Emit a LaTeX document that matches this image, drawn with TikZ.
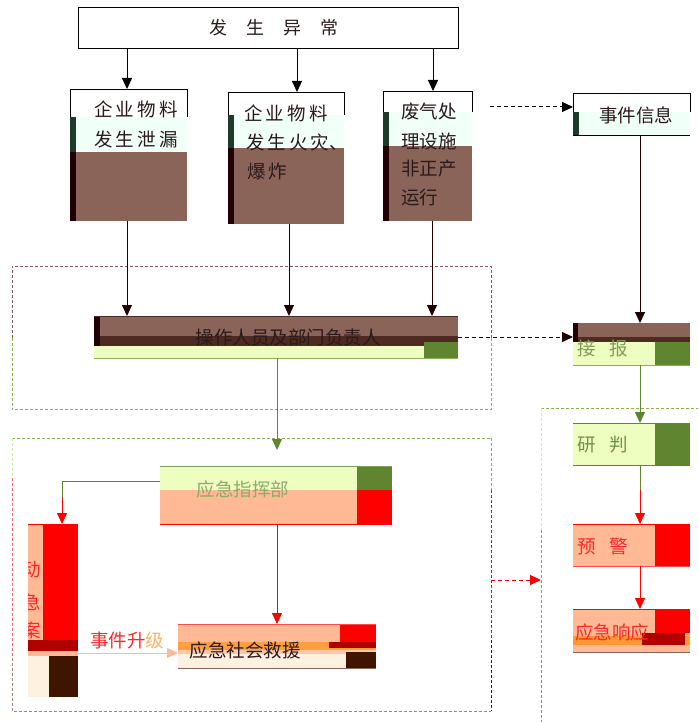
\documentclass[tikz,border=0pt]{standalone}
\usepackage{fontspec}
\newfontfamily\cjk{Noto Sans CJK SC}
\usetikzlibrary{arrows.meta}
\definecolor{brn}{HTML}{8B6459}
\definecolor{dstrip}{HTML}{200000}
\definecolor{mint}{HTML}{F0FFF8}
\definecolor{dgreen}{HTML}{1E3A2A}
\definecolor{lyg}{HTML}{EEFDC0}
\definecolor{olive}{HTML}{5F8530}
\definecolor{salmon}{HTML}{FFB994}
\definecolor{beige}{HTML}{FFF1E0}
\definecolor{dbrown}{HTML}{3F1500}
\definecolor{dred}{HTML}{B00000}
\definecolor{dbr2}{HTML}{4E2A22}
\definecolor{dashbrn}{HTML}{7A5A5A}
\definecolor{dashgrn}{HTML}{8BB050}
\definecolor{lgrn}{HTML}{C8F0A0}
\definecolor{txtdark}{HTML}{2A1A1A}
\tikzset{
  box/.style={draw=none,fill=none,inner sep=0pt,anchor=north west},
  txt/.style={font=\cjk\fontsize{18.5}{20}\selectfont,inner sep=0pt,text=txtdark},
  arr/.style={-{Triangle[length=11pt,width=10pt]},line width=1pt},
  dsh/.style={dashed,dash pattern=on 3pt off 2pt,line width=0.8pt},
}
\begin{document}
\begin{tikzpicture}[x=1pt,y=-1pt]
\useasboundingbox (0,0) rectangle (698,722);
\fill[white] (0,0) rectangle (698,722);

% ---------- top box
\node[box,draw=black,line width=0.8pt,minimum width=380pt,minimum height=41pt] (T) at (78,7) {};
\node[txt,font=\cjk\fontsize{18}{20}\selectfont] (Tt) at (274,28) {发\hspace{19pt}生\hspace{19pt}异\hspace{19pt}常};

% ---------- box A
\fill[mint] (70,117) rectangle (187,152);
\fill[dgreen] (70,117) rectangle (76,152);
\fill[brn] (70,152) rectangle (187,221);
\fill[dstrip] (70,152) rectangle (76,221);
\draw[black,line width=0.8pt] (70,117) -- (70,89) -- (187,89) -- (187,117);
\node[box,minimum width=117pt,minimum height=132pt] (A) at (70,89) {};
\node[txt] (A1) at (136,109) {企\,业\,物\,料};
\node[txt] (A2) at (136,139) {发\,生\,泄\,漏};

% ---------- box B
\fill[mint] (228,115) rectangle (344,148);
\fill[dgreen] (228,115) rectangle (234,148);
\fill[brn] (228,148) rectangle (344,224);
\fill[dstrip] (228,148) rectangle (234,224);
\draw[black,line width=0.8pt] (228,115) -- (228,92) -- (344,92) -- (344,115);
\node[box,minimum width=116pt,minimum height=132pt] (B) at (228,92) {};
\node[txt] (B1) at (286,113) {企\,业\,物\,料};
\node[txt,anchor=west] (B2) at (246,142) {发\,生\,火\,灾、};
\node[txt,anchor=west] (B3) at (247,171) {爆\,炸};

% ---------- box C
\fill[mint] (383,112) rectangle (472,146);
\fill[dgreen] (383,112) rectangle (389,146);
\fill[brn] (383,146) rectangle (472,221);
\fill[dstrip] (383,146) rectangle (389,221);
\draw[black,line width=0.8pt] (383,112) -- (383,91) -- (472,91) -- (472,112);
\node[box,minimum width=89pt,minimum height=130pt] (C) at (383,91) {};
\node[txt,anchor=west] (C1) at (401,111) {废气处};
\node[txt,anchor=west] (C2) at (401,141) {理设施};
\node[txt,anchor=west] (C3) at (401,169) {非正产};
\node[txt,anchor=west] (C4) at (401,197) {运行};

% ---------- box D
\fill[mint] (573,112) rectangle (690,135);
\fill[dgreen] (573,112) rectangle (579,135);
\draw[black,line width=0.8pt] (573,112) -- (573,93) -- (690,93) -- (690,112);
\draw[black,line width=0.8pt] (573,135) -- (690,135);
\node[box,minimum width=117pt,minimum height=42pt] (D) at (573,93) {};
\node[txt] (D1) at (636,115) {事件信息};

% ---------- dashed region 1
\node[box,minimum width=479pt,minimum height=143pt] (R1) at (12,266) {};
\draw[dsh,dashbrn] (R1.west) -- (R1.north west) -- (R1.north east) -- (R1.east);
\draw[dsh,dashgrn] (R1.west) -- (R1.south west) -- (R1.south east) -- (R1.east);

% ---------- box E
\fill[brn] (94,316) rectangle (458,342);
\fill[dbr2] (94,336) rectangle (458,346);
\fill[lyg] (94,346) rectangle (458,358);
\fill[olive] (424,342) rectangle (458,358);
\fill[dstrip] (94,316) rectangle (100,346);
\draw[dbr2,line width=0.8pt] (94,316) -- (458,316);
\draw[dashgrn,line width=0.8pt] (94,358) -- (458,358);
\node[box,minimum width=364pt,minimum height=42pt] (E) at (94,316) {};
\node[txt] (E1) at (288,337) {操作人员及部门负责人};

% ---------- box F
\fill[brn] (573,323) rectangle (690,342);
\fill[dbr2] (573,337) rectangle (690,342);
\fill[lyg] (573,342) rectangle (690,365);
\fill[olive] (655,342) rectangle (690,365);
\fill[dstrip] (573,323) rectangle (578,342);
\draw[dashgrn,line width=0.8pt] (573,365) -- (690,365);
\node[box,minimum width=117pt,minimum height=42pt] (F) at (573,323) {};
\node[txt,text=olive!80] (F1) at (603,348) {接\hspace{14pt}报};

% ---------- dashed region 2 (right)
\node[box,minimum width=157pt,minimum height=314pt] (R2) at (541,408) {};
\draw[dsh,dashgrn] (R2.north west) -- (R2.north east);
\draw[dsh,lgrn] (R2.north west) -- ++(0,122);
\draw[dsh,red!60] ([yshift=-122pt]R2.north west) -- ++(0,130);
\draw[dsh,brn!80] ([yshift=-252pt]R2.north west) -- (R2.south west);

% ---------- box G
\fill[lyg] (573,423) rectangle (690,465);
\fill[olive] (655,423) rectangle (690,465);
\draw[olive,line width=0.8pt] (573,423) -- (690,423) (573,465) -- (690,465);
\node[box,minimum width=117pt,minimum height=42pt] (G) at (573,423) {};
\node[txt,text=olive!90] (G1) at (603,445) {研\hspace{14pt}判};

% ---------- box H
\fill[salmon] (573,524) rectangle (690,566);
\fill[red] (655,524) rectangle (690,566);
\draw[red,line width=0.8pt] (573,524) -- (690,524);
\draw[red!70,line width=0.8pt] (573,566) -- (690,566);
\node[box,minimum width=117pt,minimum height=42pt] (H) at (573,524) {};
\node[txt,text=red!85] (H1) at (603,546) {预\hspace{14pt}警};

% ---------- box I
\fill[salmon] (573,609) rectangle (690,652);
\fill[red] (655,609) rectangle (690,633);
\fill[orange!80] (573,636) rectangle (690,645);
\fill[dred] (642,633) rectangle (685,645);
\draw[red,line width=0.8pt] (573,609) -- (690,609);
\draw[brn,line width=0.8pt] (573,652) -- (690,652);
\node[box,minimum width=117pt,minimum height=43pt] (I) at (573,609) {};
\node[txt,text=red!85] (I1) at (612,632) {应急响应};

% ---------- dashed region 3
\node[box,minimum width=479pt,minimum height=273pt] (R3) at (12,438) {};
\draw[dsh,dashgrn] (R3.north west) -- (R3.north east);
\draw[dsh,lgrn] (R3.north west) -- ++(0,40);
\draw[dsh,red!60] ([yshift=-40pt]R3.north west) -- ++(0,180);
\draw[dsh,brn!80] ([yshift=-220pt]R3.north west) -- (R3.south west) -- (R3.south east);
\draw[dsh,dashgrn] (R3.north east) -- ++(0,52);
\draw[dsh,red] ([yshift=-52pt]R3.north east) -- ++(0,150);
\draw[dsh,dbrown] ([yshift=-202pt]R3.north east) -- (R3.south east);

% ---------- box J
\fill[lyg] (160,466) rectangle (392,490);
\fill[olive] (357,466) rectangle (392,490);
\fill[salmon] (160,490) rectangle (392,524);
\fill[red] (357,490) rectangle (392,524);
\draw[olive!80,line width=0.8pt] (160,466) -- (392,466);
\draw[red,line width=0.8pt] (160,524) -- (392,524);
\node[box,minimum width=232pt,minimum height=58pt] (J) at (160,466) {};
\node[txt,text=olive!70] (J1) at (243,489) {应急指挥部};

% ---------- box K
\fill[salmon] (28,524) rectangle (43,640);
\fill[red] (43,524) rectangle (78,640);
\fill[dred] (28,640) rectangle (78,651);
\fill[salmon] (28,651) rectangle (78,656);
\fill[beige] (28,656) rectangle (49,697);
\fill[dbrown] (49,656) rectangle (78,697);
\draw[red,line width=0.8pt] (28,524) -- (78,524);
\node[box,minimum width=50pt,minimum height=173pt] (K) at (28,524) {};
\begin{scope}
\clip (28,524) rectangle (78,697);
\node[txt,text=red!85] (K1) at (22,569) {启动};
\node[txt,text=red!85] (K2) at (22,602) {应急};
\node[txt,text=red!85] (K3) at (22,630) {预案};
\end{scope}

% ---------- box L
\fill[salmon] (178,624) rectangle (376,650);
\fill[red] (340,624) rectangle (376,644);
\fill[orange!75] (178,642) rectangle (376,650);
\fill[dred] (329,642) rectangle (376,648);
\fill[salmon!80] (178,650) rectangle (376,654);
\fill[beige] (178,654) rectangle (376,668);
\fill[dbrown] (346,652) rectangle (376,668);
\draw[red!70,line width=0.8pt] (178,624) -- (376,624);
\draw[brn,line width=0.8pt] (178,668) -- (376,668);
\node[box,minimum width=198pt,minimum height=44pt] (L) at (178,624) {};
\node[txt] (L1) at (245,650) {应急社会救援};

% ---------- connectors
\coordinate (ta) at (127,48); \coordinate (tb) at (297,48); \coordinate (tc) at (433,48);
\draw[arr] (ta) -- (ta |- A.north);
\draw[arr] (tb) -- (tb |- B.north);
\draw[arr] (tc) -- (tc |- C.north);
\coordinate (da) at (490,107);
\draw[arr,dashed,dash pattern=on 4pt off 3pt] (da) -- (D.west |- da);

\coordinate (ea) at (127,221); \coordinate (eb) at (289,224); \coordinate (ec) at (432,221);
\draw[arr,dstrip] (ea) -- (ea |- E.north);
\draw[arr,dstrip] (eb) -- (eb |- E.north);
\draw[arr,dstrip] (ec) -- (ec |- E.north);
\coordinate (df) at (640,135);
\draw[arr,dstrip] (df) -- (df |- F.north);
\coordinate (ef) at (458,337);
\draw[arr,dstrip,dashed,dash pattern=on 4pt off 3pt] (ef) -- (F.west |- ef);

\coordinate (eg) at (277,358);
\coordinate (R3in) at (277,450);
\draw[arr,olive,line width=0.8pt] (eg) -- (R3in);
\coordinate (fg) at (640,365);
\draw[arr,olive,line width=0.8pt] (fg) -- (fg |- G.north);
\coordinate (gh) at (640,465);
\coordinate (ghm) at (640,490);
\draw[olive,line width=0.8pt] (gh) -- (ghm);
\draw[arr,red,line width=0.8pt] (ghm) -- (ghm |- H.north);
\coordinate (hi) at (640,566);
\draw[arr,red,line width=0.8pt] (hi) -- (hi |- I.north);

\coordinate (jk) at (160,481);
\coordinate (jk1) at (62,481);
\coordinate (jk2) at (62,497);
\draw[olive,line width=0.8pt] (jk) -- (jk1) -- (jk2);
\draw[arr,red,line width=0.8pt] (jk2) -- (jk2 |- K.north);
\coordinate (jl) at (277,524);
\draw[arr,red,line width=0.8pt] (jl) -- (jl |- L.north);
\coordinate (kl) at (78,653);
\draw[arr,salmon,line width=0.8pt] (kl) -- (L.west |- kl);
\node[txt,text=red!85,anchor=south] (KL) at (127,649) {事件升\textcolor{orange!60}{级}};
\coordinate (r32) at (491,580);
\draw[arr,red,dashed,dash pattern=on 4pt off 3pt] (r32) -- (R2.west |- r32);
\end{tikzpicture}
\end{document}
